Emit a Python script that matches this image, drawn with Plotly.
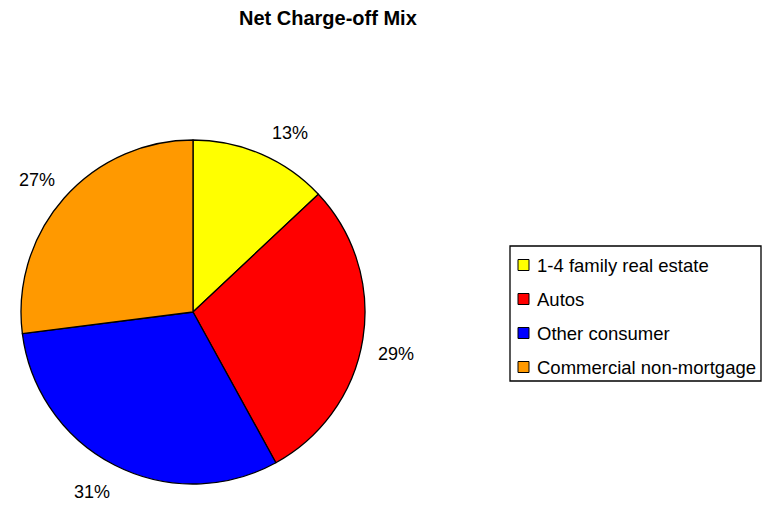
import math
import plotly.graph_objects as go

# Net charge-off shares by loan category
categories = ["1-4 family real estate", "Autos", "Other consumer", "Commercial non-mortgage"]
shares = [13, 29, 31, 27]
colors = ["#FFFF00", "#FF0000", "#0000FF", "#FF9900"]
title_text = "Net Charge-off Mix"

W, H = 762, 506
cx, cy, R = 193, 312, 172  # pie centre and radius in pixels
FONT = "Arial, Liberation Sans, sans-serif"


def px(x):
    return x / W


def py(y):
    return 1 - y / H


fig = go.Figure()
fig.add_trace(go.Pie(
    labels=categories,
    values=shares,
    marker=dict(colors=colors, line=dict(color="black", width=1.3)),
    sort=False,
    direction="clockwise",
    rotation=0,
    textinfo="none",
    hoverinfo="label+percent",
    showlegend=False,
    domain=dict(x=[px(cx - R), px(cx + R)], y=[py(cy + R), py(cy - R)]),
))

annotations = []
shapes = []

# Percentage labels outside each slice, placed at the slice's mid-angle
total = sum(shares)
cum = 0
for v in shares:
    mid = (cum + v / 2) / total * 2 * math.pi
    cum += v
    s, c = math.sin(mid), math.cos(mid)
    rr = R + 13
    x = cx + rr * s + 3.5 * abs(c)
    y = cy - rr * c + 3 * abs(c) + 0.5
    annotations.append(dict(
        x=px(x), y=py(y), xref="paper", yref="paper",
        text=f"{round(v / total * 100)}%", showarrow=False,
        xanchor="left" if s > 0.05 else ("right" if s < -0.05 else "center"),
        yanchor="bottom" if c > 0 else "top",
        font=dict(family=FONT, size=18, color="black"),
    ))

# Title
annotations.append(dict(
    x=px(328), y=py(18), xref="paper", yref="paper", text=f"<b>{title_text}</b>",
    showarrow=False, xanchor="center", yanchor="middle",
    font=dict(family=FONT, size=20, color="black"),
))

# Legend box with swatches
lx0, lx1, ly0, ly1 = 510, 761, 246, 381
shapes.append(dict(type="rect", xref="paper", yref="paper",
                   x0=px(lx0), x1=px(lx1), y0=py(ly1), y1=py(ly0),
                   line=dict(color="black", width=1.3), fillcolor="white"))
row_y0, row_gap = 265, 34
for i, (name, col) in enumerate(zip(categories, colors)):
    yy = row_y0 + i * row_gap
    shapes.append(dict(type="rect", xref="paper", yref="paper",
                       x0=px(518), x1=px(529), y0=py(yy + 5.5), y1=py(yy - 5.5),
                       line=dict(color="black", width=1), fillcolor=col))
    annotations.append(dict(
        x=px(535), y=py(yy), xref="paper", yref="paper", text=name,
        showarrow=False, xanchor="left", yanchor="middle",
        font=dict(family=FONT, size=18.5, color="black"),
    ))

fig.update_layout(
    width=W, height=H,
    margin=dict(l=0, r=0, t=0, b=0),
    paper_bgcolor="white", plot_bgcolor="white",
    annotations=annotations, shapes=shapes,
    showlegend=False,
)

fig.write_html("out.html")
